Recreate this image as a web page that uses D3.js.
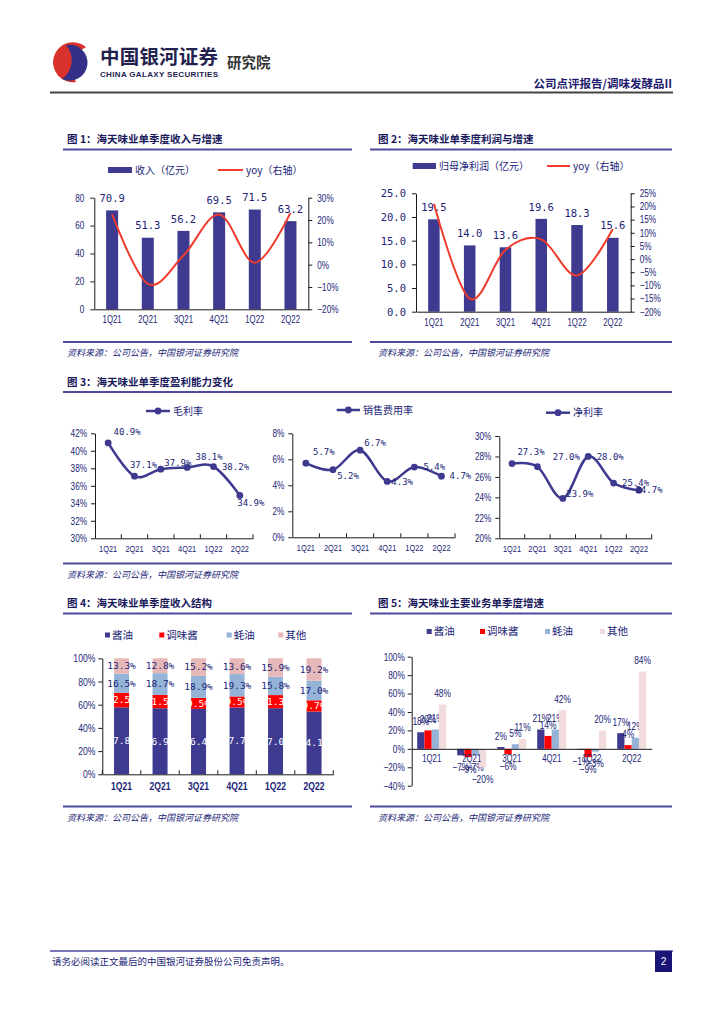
<!DOCTYPE html>
<html>
<head>
<meta charset="utf-8">
<script src="https://cdn.jsdelivr.net/npm/d3@7"></script>
<style>
body { margin: 0; background: #fff; }
svg { display: block; }
</style>
</head>
<body>
<svg id="page" width="724" height="1024"></svg>
<script>
//quarters shared by every chart
var quarters = ["1Q21", "2Q21", "3Q21", "4Q21", "1Q22", "2Q22"];

//fig 1: revenue (100m yuan) and yoy (%)
var revenue = [70.9, 51.3, 56.2, 69.5, 71.5, 63.2];
var revenueYoy = [22.5, -8.6, 4.1, 22.5, 0.9, 23.2];

//fig 2: net profit attributable (100m yuan) and yoy (%)
var netProfit = [19.5, 14.0, 13.6, 19.6, 18.3, 15.6];
var netProfitYoy = [21.0, -15.0, 3.5, 7.5, -6.2, 11.4];

//fig 3: margins (%)
var grossMargin = [40.9, 37.1, 37.9, 38.1, 38.2, 34.9];
var salesExpRatio = [5.7, 5.2, 6.7, 4.3, 5.4, 4.7];
var netMargin = [27.3, 27.0, 23.9, 28.0, 25.4, 24.7];

//fig 4: revenue mix (%)
var productKeys = ["酱油", "调味酱", "蚝油", "其他"];
var mixSoy = [57.8, 56.9, 56.4, 57.7, 57.0, 54.1];
var mixPaste = [12.5, 11.5, 9.5, 9.5, 11.3, 9.7];
var mixOyster = [16.5, 18.7, 18.9, 19.3, 15.8, 17.0];
var mixOther = [13.3, 12.8, 15.2, 13.6, 15.9, 19.2];

//fig 5: growth by product (%)
var growSoy = [18, -7, 2, 21, -1, 17];
var growPaste = [20, -9, -6, 14, -9, 4];
var growOyster = [21, -7, 5, 21, -3, 12];
var growOther = [48, -20, 11, 42, 20, 84];

//colours and fonts
var navy = "#211e76";
var purple = "#3d3a8f";
var rule = "#4d4aa0";
var red = "#ee3b2d";
var cjk = "'Noto Sans CJK SC', sans-serif";
var num = "'Liberation Sans', Arial, sans-serif";
var mono = "'DejaVu Sans Mono', monospace";

var svg = d3.select("#page");

function minus(s) { return String(s).replace("-", "\u2212"); }
function pct(d) { return minus(d + "%"); }

//the reference uses a narrow face for numbers, squeeze the glyphs
function narrow(sel, f) {
  sel.each(function() {
    var w = this.getComputedTextLength();
    if (w > 0) d3.select(this).attr("textLength", w * f).attr("lengthAdjust", "spacingAndGlyphs");
  });
}

function styleAxis(g, size) {
  g.attr("font-family", num).attr("font-size", size || 10).attr("color", "#1a1a1a");
  g.selectAll("text").attr("fill", navy);
  narrow(g.selectAll("text"), 0.78);
}

//---------- header ----------
var logo = svg.append("g").attr("transform", "translate(50,42)");
logo.append("path")
  .attr("d", "M36,5 A20,20 0 1 0 26,40 A25,25 0 0 1 36,5 Z")
  .attr("fill", "#d8322c");
logo.append("path")
  .attr("d", "M16,3 A18,18 0 1 1 12,37 A23,23 0 0 0 16,3 Z")
  .attr("fill", "#332f86");
svg.append("text").attr("x", 100).attr("y", 64)
  .attr("font-family", cjk).attr("font-weight", "bold").attr("font-size", 19.5)
  .attr("fill", "#23224f").attr("textLength", 118).text("中国银河证券");
svg.append("text").attr("x", 100).attr("y", 76.5)
  .attr("font-family", num).attr("font-weight", "bold").attr("font-size", 8)
  .attr("fill", "#23224f").attr("textLength", 118).text("CHINA GALAXY SECURITIES");
svg.append("text").attr("x", 227).attr("y", 68)
  .attr("font-family", cjk).attr("font-weight", "bold").attr("font-size", 14.5)
  .attr("fill", "#333").text("研究院");
svg.append("text").attr("x", 672).attr("y", 88)
  .attr("text-anchor", "end")
  .attr("font-family", cjk).attr("font-weight", "bold").attr("font-size", 11.5)
  .attr("fill", "#1c1a6e").text("公司点评报告/调味发酵品II");
svg.append("line").attr("x1", 50).attr("x2", 673).attr("y1", 92.5).attr("y2", 92.5)
  .attr("stroke", "#444").attr("stroke-width", 2);

//---------- footer ----------
svg.append("line").attr("x1", 50).attr("x2", 673).attr("y1", 951).attr("y2", 951)
  .attr("stroke", rule).attr("stroke-width", 1.5);
svg.append("text").attr("x", 52).attr("y", 965)
  .attr("font-family", cjk).attr("font-size", 9.5).attr("fill", navy)
  .text("请务必阅读正文最后的中国银河证券股份公司免责声明。");
svg.append("rect").attr("x", 655).attr("y", 951).attr("width", 17).attr("height", 21).attr("fill", "#1a1478");
svg.append("text").attr("x", 663.5).attr("y", 965).attr("text-anchor", "middle")
  .attr("font-family", num).attr("font-size", 10).attr("fill", "#fff").text("2");

//---------- section frames ----------
function frame(x0, x1, tx, yTitle, yTop, yBottom, title) {
  svg.append("text").attr("x", tx).attr("y", yTitle).attr("dy", "0.35em")
    .attr("font-family", cjk).attr("font-weight", "bold").attr("font-size", 10.5)
    .attr("fill", "#1a1a5c").text(title);
  svg.append("line").attr("x1", x0).attr("x2", x1).attr("y1", yTop).attr("y2", yTop)
    .attr("stroke", rule).attr("stroke-width", 2);
  svg.append("line").attr("x1", x0).attr("x2", x1).attr("y1", yBottom).attr("y2", yBottom)
    .attr("stroke", rule).attr("stroke-width", 2);
  svg.append("text").attr("x", tx).attr("y", yBottom + 11).attr("dy", "0.35em")
    .attr("font-family", cjk).attr("font-style", "italic").attr("font-size", 9)
    .attr("fill", navy).text("资料来源：公司公告，中国银河证券研究院");
}
frame(63, 352, 67, 139, 149.5, 342, "图 1：海天味业单季度收入与增速");
frame(370, 672, 378, 139, 149.5, 342, "图 2：海天味业单季度利润与增速");
frame(63, 672, 67, 382, 392, 563.5, "图 3：海天味业单季度盈利能力变化");
frame(63, 352, 67, 603.5, 613.5, 806.5, "图 4：海天味业单季度收入结构");
frame(370, 672, 378, 603.5, 613.5, 806.5, "图 5：海天味业主要业务单季度增速");

//---------- bar + yoy line charts ----------
function barLineChart(cfg) {
  var g = svg.append("g");
  var x = d3.scaleBand().domain(quarters).range(cfg.xr);
  var yl = d3.scaleLinear().domain(cfg.ld).range(cfg.yr);
  var yr = d3.scaleLinear().domain(cfg.rd).range(cfg.yr);
  var cx = function(d, i) { return x(quarters[i]) + x.bandwidth() / 2; };

  g.selectAll("rect.bar").data(cfg.bars).join("rect")
    .attr("class", "bar")
    .attr("x", function(d, i) { return cx(d, i) - cfg.bw / 2; })
    .attr("y", function(d) { return yl(d); })
    .attr("width", cfg.bw)
    .attr("height", function(d) { return yl(0) - yl(d); })
    .attr("fill", purple);

  g.selectAll("text.val").data(cfg.bars).join("text")
    .attr("class", "val")
    .attr("x", cx)
    .attr("y", function(d) { return yl(d) - 12; })
    .attr("dy", "0.35em")
    .attr("text-anchor", "middle")
    .attr("font-family", mono).attr("font-size", 10.5).attr("fill", navy)
    .text(function(d) { return d.toFixed(1); });

  var xa = g.append("g").attr("transform", "translate(0," + cfg.yr[0] + ")")
    .call(d3.axisBottom(x).tickSize(0).tickPadding(7));
  styleAxis(xa, 10);

  var la = g.append("g").attr("transform", "translate(" + cfg.xr[0] + ",0)")
    .call(d3.axisLeft(yl).tickValues(cfg.lt).tickFormat(cfg.lf).tickSize(4).tickSizeOuter(0).tickPadding(6));
  if (cfg.lmono) {
    la.attr("font-family", mono).attr("font-size", 10.5).attr("color", "#1a1a1a");
    la.selectAll("text").attr("fill", navy);
  } else {
    styleAxis(la, 10.5);
  }

  var ra = g.append("g").attr("transform", "translate(" + cfg.xr[1] + ",0)")
    .call(d3.axisRight(yr).tickValues(cfg.rt).tickFormat(pct).tickSize(4).tickSizeOuter(0).tickPadding(5));
  styleAxis(ra, 10.5);

  g.append("path").datum(cfg.yoy)
    .attr("d", d3.line().x(cx).y(function(d) { return yr(d); }).curve(d3.curveCardinal.tension(0)))
    .attr("fill", "none").attr("stroke", red).attr("stroke-width", 2);

  //legend
  var L = cfg.legend;
  g.append("rect").attr("x", L.bx[0]).attr("y", L.y - 3).attr("width", L.bx[1] - L.bx[0]).attr("height", 6).attr("fill", purple);
  g.append("text").attr("x", L.bx[1] + 3).attr("y", L.y).attr("dy", "0.35em")
    .attr("font-family", cjk).attr("font-size", 10).attr("fill", navy).text(L.barText);
  g.append("line").attr("x1", L.lx[0]).attr("x2", L.lx[1]).attr("y1", L.y).attr("y2", L.y)
    .attr("stroke", red).attr("stroke-width", 2);
  g.append("text").attr("x", L.lx[1] + 3).attr("y", L.y).attr("dy", "0.35em")
    .attr("font-family", cjk).attr("font-size", 10).attr("fill", navy).text("yoy（右轴）");
}

barLineChart({
  bars: revenue, yoy: revenueYoy,
  xr: [94.3, 308.3], yr: [309.3, 197.7], bw: 12,
  ld: [0, 80], lt: [0, 20, 40, 60, 80], lf: function(d) { return d; },
  rd: [-20, 30], rt: [-20, -10, 0, 10, 20, 30],
  legend: { y: 170, bx: [108, 132], lx: [218, 243], barText: "收入（亿元）" }
});

barLineChart({
  bars: netProfit, yoy: netProfitYoy,
  xr: [416, 630.7], yr: [311.7, 193.3], bw: 11.5,
  ld: [0, 25], lt: [0, 5, 10, 15, 20, 25], lf: function(d) { return d.toFixed(1); }, lmono: true,
  rd: [-20, 25], rt: [-20, -15, -10, -5, 0, 5, 10, 15, 20, 25],
  legend: { y: 166, bx: [412.7, 436], lx: [547, 570], barText: "归母净利润（亿元）" }
});

//---------- margin line charts ----------
var gmLabelOff = [[19, -11], [9, -11], [17, -6], [22, -11], [22, 0], [11, 7]];
var seLabelOff = [[18, -11], [15, 6], [15, -7], [15, 0], [20, 0], [19, 0]];
var nmLabelOff = [[19, -12], [29, -10], [17, -5], [22, 0], [22, 0], [10, 0]];

function marginChart(cfg) {
  var g = svg.append("g");
  var x = d3.scaleBand().domain(quarters).range(cfg.xr);
  var y = d3.scaleLinear().domain(cfg.yd).range(cfg.yr);
  var cx = function(d, i) { return x(quarters[i]) + x.bandwidth() / 2; };

  var xa = g.append("g").attr("transform", "translate(0," + cfg.yr[0] + ")")
    .call(d3.axisBottom(x).tickSize(0).tickPadding(7));
  styleAxis(xa, 9.5);
  //category boundary ticks, pointing up
  g.selectAll("line.tk").data(d3.range(1, quarters.length + 1)).join("line")
    .attr("x1", function(i) { return cfg.xr[0] + i * x.step(); })
    .attr("x2", function(i) { return cfg.xr[0] + i * x.step(); })
    .attr("y1", cfg.yr[0]).attr("y2", cfg.yr[0] - 4)
    .attr("stroke", "#1a1a1a");

  var ya = g.append("g").attr("transform", "translate(" + cfg.xr[0] + ",0)")
    .call(d3.axisLeft(y).tickValues(cfg.ticks).tickFormat(pct).tickSize(4).tickSizeOuter(0).tickPadding(4));
  styleAxis(ya, 10.5);

  g.append("path").datum(cfg.data)
    .attr("d", d3.line().x(cx).y(function(d) { return y(d); }).curve(d3.curveCardinal.tension(0)))
    .attr("fill", "none").attr("stroke", purple).attr("stroke-width", 2.5);

  g.selectAll("circle.pt").data(cfg.data).join("circle")
    .attr("class", "pt")
    .attr("cx", cx).attr("cy", function(d) { return y(d); })
    .attr("r", 3.4).attr("fill", purple);

  g.selectAll("text.val").data(cfg.data).join("text")
    .attr("class", "val")
    .attr("x", function(d, i) { return cx(d, i) + cfg.off[i][0]; })
    .attr("y", function(d, i) { return y(d) + cfg.off[i][1]; })
    .attr("dy", "0.35em").attr("text-anchor", "middle")
    .attr("font-family", mono).attr("font-size", 9).attr("fill", navy)
    .text(function(d) { return d.toFixed(1) + "%"; });

  var L = cfg.legend;
  g.append("line").attr("x1", L.x[0]).attr("x2", L.x[1]).attr("y1", L.y).attr("y2", L.y)
    .attr("stroke", purple).attr("stroke-width", 2.5);
  g.append("circle").attr("cx", (L.x[0] + L.x[1]) / 2).attr("cy", L.y).attr("r", 3.4).attr("fill", purple);
  g.append("text").attr("x", L.x[1] + 3).attr("y", L.y).attr("dy", "0.35em")
    .attr("font-family", cjk).attr("font-size", 10).attr("fill", navy).text(L.text);
}

marginChart({
  data: grossMargin, off: gmLabelOff,
  xr: [95, 253], yd: [30, 42], yr: [538.3, 433.3], ticks: [30, 32, 34, 36, 38, 40, 42],
  legend: { x: [146, 170], y: 411, text: "毛利率" }
});
marginChart({
  data: salesExpRatio, off: seLabelOff,
  xr: [292.3, 455], yd: [0, 8], yr: [537.3, 433.3], ticks: [0, 2, 4, 6, 8],
  legend: { x: [336.7, 360], y: 410, text: "销售费用率" }
});
marginChart({
  data: netMargin, off: nmLabelOff,
  xr: [499.3, 651.7], yd: [20, 30], yr: [538.3, 436], ticks: [20, 22, 24, 26, 28, 30],
  legend: { x: [546, 570], y: 412.7, text: "净利率" }
});

//---------- fig 4: stacked revenue mix ----------
(function() {
  var colors = ["#3d3a8f", "#ff0000", "#95b3d7", "#e6b9b8"];
  var labelColors = ["#fff", "#fff", navy, navy];
  var series = [mixSoy, mixPaste, mixOyster, mixOther];
  var table = quarters.map(function(q, i) {
    var row = { q: q };
    productKeys.forEach(function(k, j) { row[k] = series[j][i]; });
    return row;
  });
  var stacked = d3.stack().keys(productKeys).offset(d3.stackOffsetExpand)(table);

  var g = svg.append("g");
  var x = d3.scaleBand().domain(quarters).range([102.3, 333.3]);
  var y = d3.scaleLinear().domain([0, 1]).range([774.3, 658.3]);
  var bw = 15;

  var layers = g.selectAll("g.layer").data(stacked).join("g").attr("class", "layer");
  layers.selectAll("rect").data(function(d) { return d; }).join("rect")
    .attr("x", function(d) { return x(d.data.q) + x.bandwidth() / 2 - bw / 2; })
    .attr("y", function(d) { return y(d[1]); })
    .attr("width", bw)
    .attr("height", function(d) { return y(d[0]) - y(d[1]); })
    .attr("fill", function() { return colors[d3.select(this.parentNode).datum().index]; });

  layers.each(function(s) {
    d3.select(this).selectAll("text").data(s).join("text")
      .attr("x", function(d) { return x(d.data.q) + x.bandwidth() / 2; })
      .attr("y", function(d) { return (y(d[0]) + y(d[1])) / 2; })
      .attr("dy", "0.35em").attr("text-anchor", "middle")
      .attr("font-family", mono).attr("font-size", 9.5)
      .attr("fill", labelColors[s.index])
      .text(function(d) { return d.data[s.key].toFixed(1) + "%"; });
  });

  var xa = g.append("g").attr("transform", "translate(0,774.3)")
    .call(d3.axisBottom(x).tickSize(0).tickPadding(8));
  xa.attr("font-weight", "bold");
  styleAxis(xa, 11);
  g.selectAll("line.tk").data(d3.range(0, quarters.length + 1)).join("line")
    .attr("x1", function(i) { return 102.3 + i * x.step(); })
    .attr("x2", function(i) { return 102.3 + i * x.step(); })
    .attr("y1", 774.3).attr("y2", 770.3).attr("stroke", "#1a1a1a");

  var ya = g.append("g").attr("transform", "translate(102.3,0)")
    .call(d3.axisLeft(y).tickValues([0, 0.2, 0.4, 0.6, 0.8, 1]).tickFormat(d3.format(".0%")).tickSize(4).tickSizeOuter(0).tickPadding(3));
  styleAxis(ya, 11);

  var legendX = [105, 159.3, 226.7, 278.3];
  productKeys.forEach(function(k, j) {
    g.append("rect").attr("x", legendX[j]).attr("y", 632.5).attr("width", 5).attr("height", 5).attr("fill", colors[j]);
    g.append("text").attr("x", legendX[j] + 7).attr("y", 635).attr("dy", "0.35em")
      .attr("font-family", cjk).attr("font-size", 10.5).attr("fill", navy).text(k);
  });
})();

//---------- fig 5: grouped growth bars ----------
(function() {
  var colors = ["#3d3a8f", "#ff0000", "#95b3d7", "#f2dcdb"];
  var series = [growSoy, growPaste, growOyster, growOther];
  var g = svg.append("g");
  var x0 = d3.scaleBand().domain(quarters).range([411.7, 651.7]);
  var x1 = d3.scaleBand().domain(productKeys).range([5.5, 34.5]);
  var y = d3.scaleLinear().domain([-40, 100]).range([785.7, 656.7]);

  var groups = g.selectAll("g.grp").data(series).join("g").attr("class", "grp");
  groups.each(function(vals, j) {
    var k = productKeys[j];
    d3.select(this).selectAll("rect").data(vals).join("rect")
      .attr("x", function(d, i) { return x0(quarters[i]) + x1(k); })
      .attr("y", function(d) { return y(Math.max(0, d)); })
      .attr("width", x1.bandwidth())
      .attr("height", function(d) { return Math.abs(y(d) - y(0)); })
      .attr("fill", colors[j]);
  });

  var xa = g.append("g").attr("transform", "translate(0," + y(0) + ")")
    .call(d3.axisBottom(x0).tickSize(0).tickPadding(6));
  styleAxis(xa, 10);

  var ya = g.append("g").attr("transform", "translate(411.7,0)")
    .call(d3.axisLeft(y).tickValues(d3.range(-40, 101, 20)).tickFormat(pct).tickSize(4).tickSizeOuter(0).tickPadding(3));
  styleAxis(ya, 10.5);

  groups.each(function(vals, j) {
    var k = productKeys[j];
    var t = d3.select(this).selectAll("text").data(vals).join("text")
      .attr("x", function(d, i) { return x0(quarters[i]) + x1(k) + x1.bandwidth() / 2; })
      .attr("y", function(d) { return d >= 0 ? y(d) - 11 : y(d) + 12; })
      .attr("dy", "0.35em").attr("text-anchor", "middle")
      .attr("font-family", num).attr("font-size", 10.5).attr("fill", navy)
      .text(function(d) { return pct(d); });
    narrow(t, 0.8);
  });

  var legendX = [426.7, 480, 545, 600];
  productKeys.forEach(function(k, j) {
    g.append("rect").attr("x", legendX[j]).attr("y", 629).attr("width", 5).attr("height", 5).attr("fill", colors[j]);
    g.append("text").attr("x", legendX[j] + 7).attr("y", 631.7).attr("dy", "0.35em")
      .attr("font-family", cjk).attr("font-size", 10.5).attr("fill", navy).text(k);
  });
})();
</script>
</body>
</html>
